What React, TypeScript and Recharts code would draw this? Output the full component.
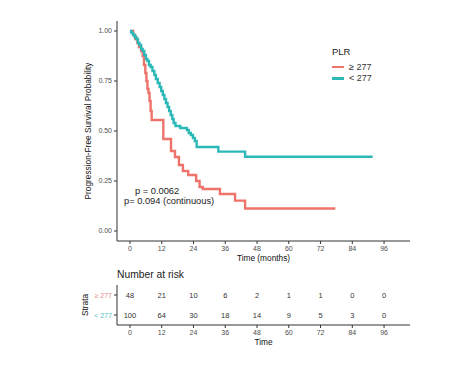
import React from 'react';
import { LineChart, Line, XAxis, YAxis, ScatterChart, Scatter } from 'recharts';

// Kaplan-Meier step points (time in months, survival probability)
const highTimes = [0, 1.2, 2.0, 2.8, 3.4, 4.2, 4.8, 5.3, 5.8, 6.2, 6.6, 7.0, 7.4, 7.8, 8.2, 12.6, 15.5, 17.0, 18.5, 20.0, 22.0, 25.0, 26.3, 27.5, 34.0, 39.7, 43.5, 77.6];
const highSurv = [1.0, 0.98, 0.96, 0.94, 0.92, 0.9, 0.875, 0.83, 0.79, 0.75, 0.71, 0.69, 0.65, 0.6, 0.555, 0.46, 0.4, 0.37, 0.33, 0.3, 0.28, 0.25, 0.22, 0.21, 0.185, 0.152, 0.1125, 0.1125];

const lowTimes = [0, 0.6, 1.2, 1.8, 2.4, 3.0, 3.6, 4.2, 4.8, 5.4, 6.0, 6.6, 7.2, 7.8, 8.5, 9.2, 9.8, 10.5, 11.2, 11.8, 12.4, 13.0, 13.6, 14.2, 14.8, 15.4, 16.0, 16.5, 17.2, 19.0, 21.5, 22.2, 23.0, 23.8, 24.5, 25.2, 33.4, 43.5, 91.7];
const lowSurv = [1.0, 0.99, 0.98, 0.97, 0.96, 0.94, 0.93, 0.91, 0.9, 0.88, 0.86, 0.85, 0.83, 0.82, 0.8, 0.78, 0.76, 0.74, 0.72, 0.7, 0.68, 0.66, 0.64, 0.62, 0.6, 0.58, 0.56, 0.54, 0.525, 0.515, 0.505, 0.49, 0.48, 0.465, 0.45, 0.42, 0.397, 0.371, 0.371];

const timeTicks = [0, 12, 24, 36, 48, 60, 72, 84, 96];
const survTicks = [0, 0.25, 0.5, 0.75, 1.0];
const strataLabels = ['\u2265 277', '< 277'];
const riskHigh = [48, 21, 10, 6, 2, 1, 1, 0, 0];
const riskLow = [100, 64, 30, 18, 14, 9, 5, 3, 0];
const pValueText = ['p = 0.0062', 'p= 0.094 (continuous)'];

const RED = '#EE746B';
const TEAL = '#2DB8B8';
const FONT = '"Liberation Sans", Arial, sans-serif';
const AXIS = '#333333';
const TICKTXT = '#4D4D4D';

const highData = highTimes.map((t, i) => ({ t, s: highSurv[i] }));
const lowData = lowTimes.map((t, i) => ({ t, s: lowSurv[i] }));
const riskHighData = timeTicks.map((t, i) => ({ t, row: 1, n: riskHigh[i] }));
const riskLowData = timeTicks.map((t, i) => ({ t, row: 0, n: riskLow[i] }));

const X_DOMAIN: [number, number] = [-4.9, 105.8];

const LegendBox = () => (
  <div style={{ position: 'absolute', left: 332, top: 46, fontFamily: FONT, color: '#222' }}>
    <div style={{ fontSize: 9.5, lineHeight: '12px', marginBottom: 3 }}>PLR</div>
    {[{ c: RED, l: strataLabels[0] }, { c: TEAL, l: strataLabels[1] }].map((e) => (
      <div key={e.l} style={{ display: 'flex', alignItems: 'center', height: 11.6 }}>
        <div style={{ width: 12, height: 2.5, background: e.c, marginRight: 5 }} />
        <span style={{ fontSize: 9, color: '#333' }}>{e.l}</span>
      </div>
    ))}
  </div>
);

const RiskText = (props: any) => {
  const { cx, cy, payload } = props;
  return (
    <text x={cx} y={cy} textAnchor="middle" dominantBaseline="central" fontSize={7.5} fill="#333" fontFamily={FONT}>
      {payload.n}
    </text>
  );
};

const StrataTick = (props: any) => {
  const { x, y, payload } = props;
  const isHigh = payload.value === 1;
  return (
    <text x={x} y={y} textAnchor="end" dominantBaseline="central" fontSize={7} fill={isHigh ? '#E88C86' : '#4FC0C4'} fontFamily={FONT}>
      {isHigh ? strataLabels[0] : strataLabels[1]}
    </text>
  );
};

export default function App() {
  return (
    <div style={{ position: 'fixed', left: 0, top: 0, width: 466, height: 377, background: '#fff', fontFamily: FONT }}>
      <div style={{ position: 'absolute', left: 0, top: 0 }}>
        <LineChart width={466} height={270} margin={{ top: 21, right: 56, bottom: 5, left: 77 }}>
          <XAxis
            type="number"
            dataKey="t"
            domain={X_DOMAIN}
            ticks={timeTicks}
            allowDataOverflow
            interval={0}
            height={24}
            tickSize={3}
            tickMargin={2}
            stroke={AXIS}
            tick={{ fontSize: 7, fill: TICKTXT, fontFamily: FONT }}
            label={{ value: 'Time (months)', position: 'insideBottom', offset: 4, style: { fontSize: 8.3, fill: '#111', fontFamily: FONT } }}
          />
          <YAxis
            type="number"
            dataKey="s"
            domain={[-0.05, 1.05]}
            ticks={survTicks}
            allowDataOverflow
            interval={0}
            width={40}
            tickSize={3}
            tickMargin={2}
            stroke={AXIS}
            tickFormatter={(v: number) => v.toFixed(2)}
            tick={{ fontSize: 7, fill: TICKTXT, fontFamily: FONT }}
            label={{ value: 'Progression-Free Survival Probability', angle: -90, position: 'insideLeft', offset: 11, style: { textAnchor: 'middle', fontSize: 8.3, fill: '#111', fontFamily: FONT } }}
          />
          <Line data={highData} dataKey="s" name={strataLabels[0]} type="stepAfter" stroke={RED} strokeWidth={2.4} dot={false} isAnimationActive={false} />
          <Line data={lowData} dataKey="s" name={strataLabels[1]} type="stepAfter" stroke={TEAL} strokeWidth={2.4} dot={false} isAnimationActive={false} />
        </LineChart>
      </div>
      <LegendBox />
      <div style={{ position: 'absolute', left: 135, top: 186, fontSize: 9.3, color: '#222', lineHeight: '10.5px', whiteSpace: 'nowrap' }}>{pValueText[0]}</div>
      <div style={{ position: 'absolute', left: 124, top: 196, fontSize: 9.3, color: '#222', lineHeight: '10.5px', whiteSpace: 'nowrap' }}>{pValueText[1]}</div>

      <div style={{ position: 'absolute', left: 117, top: 268, fontSize: 10.3, color: '#222', lineHeight: '13px', whiteSpace: 'nowrap' }}>Number at risk</div>
      <div style={{ position: 'absolute', left: 0, top: 262 }}>
        <ScatterChart width={466} height={91} margin={{ top: 23, right: 56, bottom: 4, left: 77 }}>
          <XAxis
            type="number"
            dataKey="t"
            domain={X_DOMAIN}
            ticks={timeTicks}
            allowDataOverflow
            interval={0}
            height={24}
            tickSize={3}
            tickMargin={2}
            stroke={AXIS}
            tick={{ fontSize: 7, fill: TICKTXT, fontFamily: FONT }}
            label={{ value: 'Time', position: 'insideBottom', offset: 4, style: { fontSize: 8.3, fill: '#111', fontFamily: FONT } }}
          />
          <YAxis
            type="number"
            dataKey="row"
            domain={[-0.5, 1.5]}
            ticks={[0, 1]}
            interval={0}
            allowDataOverflow
            width={40}
            tickSize={3}
            tickMargin={2}
            stroke={AXIS}
            tick={<StrataTick />}
            label={{ value: 'Strata', angle: -90, position: 'insideLeft', offset: 8, style: { textAnchor: 'middle', fontSize: 8.3, fill: '#111', fontFamily: FONT } }}
          />
          <Scatter data={riskHighData} shape={<RiskText />} isAnimationActive={false} />
          <Scatter data={riskLowData} shape={<RiskText />} isAnimationActive={false} />
        </ScatterChart>
      </div>
    </div>
  );
}
